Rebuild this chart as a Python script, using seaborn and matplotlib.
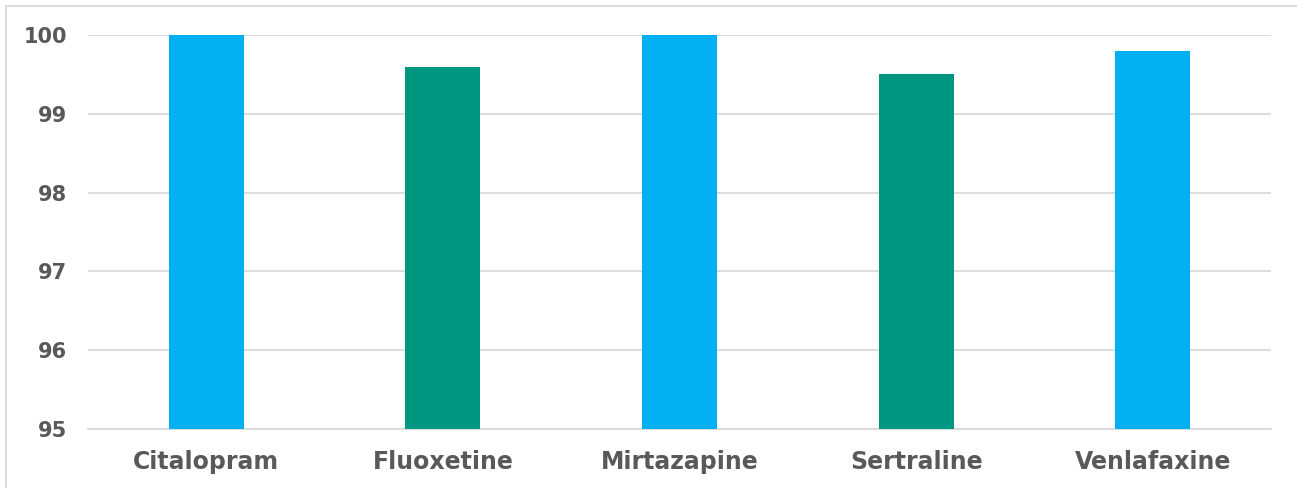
import matplotlib
matplotlib.use("Agg")
import matplotlib.pyplot as plt
import matplotlib.patches as mpatches
import seaborn as sns
import pandas as pd

drugs = ["Citalopram", "Fluoxetine", "Mirtazapine", "Sertraline", "Venlafaxine"]
values = [100.0, 99.6, 100.0, 99.5, 99.8]
groups = ["a", "b", "a", "b", "a"]
y_ticks = [95, 96, 97, 98, 99, 100]

df = pd.DataFrame({"drug": drugs, "value": values, "group": groups})

sns.set_theme(style="white")
plt.rcParams["font.family"] = ["DejaVu Sans"]

fig = plt.figure(figsize=(12.97, 4.88), dpi=100)
ax = fig.add_axes([88 / 1297, 59 / 488, (1271 - 88) / 1297, (429 - 35) / 488])

sns.barplot(
    data=df, x="drug", y="value", hue="group",
    palette={"a": "#00B0F0", "b": "#009781"}, saturation=1,
    width=0.317, dodge=False, legend=False, ax=ax, zorder=3,
    linewidth=0,
)

ax.set_ylim(95, 100)
ax.set_yticks(y_ticks)
ax.set_xlim(-0.5, len(drugs) - 0.5)
ax.yaxis.grid(True, color="#D9D9D9", linewidth=1.3, zorder=0)
ax.set_axisbelow(True)
for side in ["top", "right", "left"]:
    ax.spines[side].set_visible(False)
ax.spines["bottom"].set_color("#D9D9D9")
ax.spines["bottom"].set_linewidth(1.3)
ax.set_xlabel("")
ax.set_ylabel("")
ax.tick_params(axis="both", length=0, colors="#595959")
ax.tick_params(axis="y", pad=15, labelsize=15)
ax.tick_params(axis="x", pad=15, labelsize=17)
for lbl in ax.get_xticklabels() + ax.get_yticklabels():
    lbl.set_fontweight("bold")

# outer chart frame
frame = mpatches.Rectangle((6 / 1297, -0.2), 1.2, 1.2 - 6 / 488,
                           transform=fig.transFigure, fill=False,
                           edgecolor="#D9D9D9", linewidth=1.3)
fig.patches.append(frame)

fig.savefig("out.png", dpi=100)
